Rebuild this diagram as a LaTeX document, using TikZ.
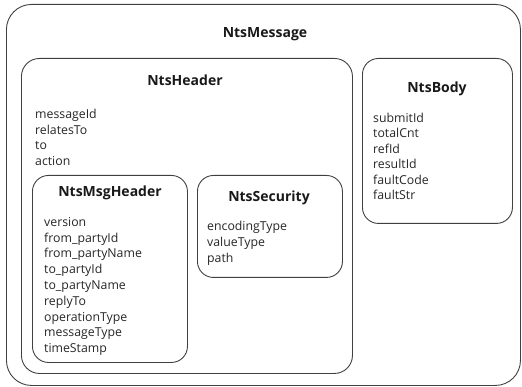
\documentclass[tikz,border=0pt]{standalone}
\usepackage{fontspec}
\setmainfont{Open Sans}
\begin{document}
\begin{tikzpicture}[x=1pt,y=-1pt,
  box/.style={draw=black!75, line width=0.9pt, anchor=north west, inner sep=0pt},
  ttl/.style={anchor=base, inner sep=0pt, font=\fontsize{14}{16}\selectfont\bfseries, text=black!90},
  field/.style={anchor=base west, inner sep=0pt, font=\fontsize{12.3}{14}\selectfont, text=black!85}]
\useasboundingbox (0,0) rectangle (522,387);
% boxes
\node[box, rounded corners=25pt, minimum width=514pt, minimum height=381pt] (msg) at (6,4) {};
\node[box, rounded corners=18pt, minimum width=331pt, minimum height=315pt] (hdr) at (21,58) {};
\node[box, rounded corners=16pt, minimum width=150pt, minimum height=165pt] (body) at (362,58) {};
\node[box, rounded corners=16pt, minimum width=155pt, minimum height=187pt] (mh) at (32,175) {};
\node[box, rounded corners=16pt, minimum width=145pt, minimum height=102pt] (sec) at (197,175) {};
% titles
\node[ttl] (tmsg) at (265,38) {NtsMessage};
\node[ttl] (thdr) at (185,86) {NtsHeader};
\node[ttl] (tbody) at (437,93) {NtsBody};
\node[ttl] (tmh) at (110,197) {NtsMsgHeader};
\node[ttl] (tsec) at (269,202) {NtsSecurity};
% fields
\foreach \t [count=\i] in {messageId,relatesTo,to,action}
  \node[field] (h\i) at (35,{118.5+15.7*(\i-1)}) {\t};
\foreach \t [count=\i] in {submitId,totalCnt,refId,resultId,faultCode,faultStr}
  \node[field] (b\i) at (373,{122.5+15.5*(\i-1)}) {\t};
\foreach \t [count=\i] in {version,from\_partyId,from\_partyName,to\_partyId,to\_partyName,replyTo,operationType,messageType,timeStamp}
  \node[field] (m\i) at (44,{226.5+15.75*(\i-1)}) {\t};
\foreach \t [count=\i] in {encodingType,valueType,path}
  \node[field] (s\i) at (207,{230.5+15.8*(\i-1)}) {\t};
\end{tikzpicture}
\end{document}
